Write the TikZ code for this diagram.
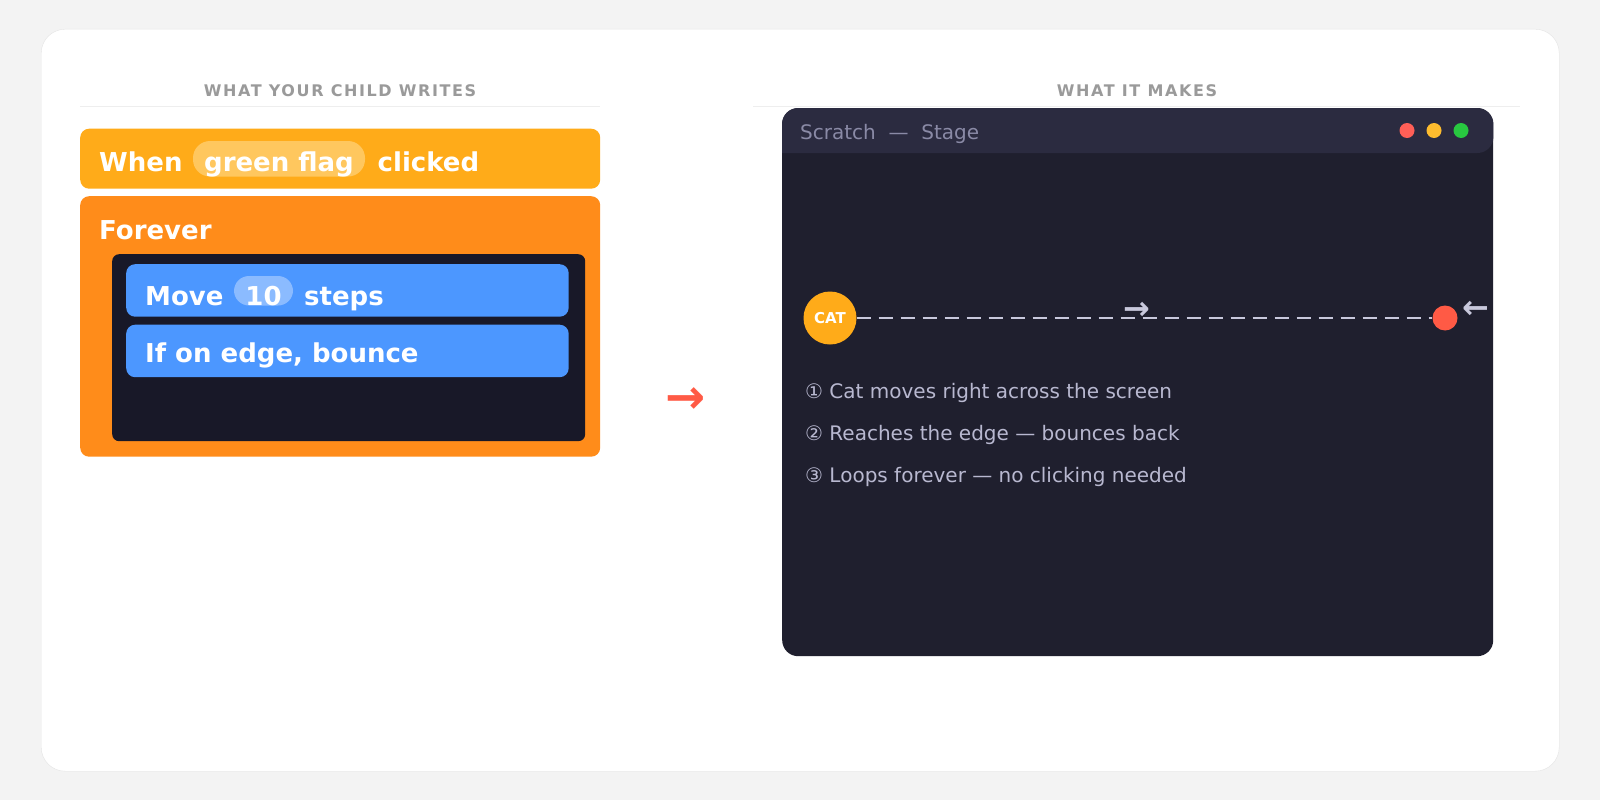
\documentclass[tikz,border=0pt]{standalone}
\usepackage{fontspec}
\setmainfont{DejaVu Sans}
\newfontfamily\headfont{DejaVu Sans}[LetterSpace=10]
\usetikzlibrary{positioning}

\definecolor{pagec}{HTML}{F3F3F3}
\definecolor{cardln}{HTML}{E4E4E4}
\definecolor{headc}{HTML}{9A9A9A}
\definecolor{rulec}{HTML}{EEEEEE}
\definecolor{eventc}{HTML}{FFAB19}
\definecolor{eventpill}{HTML}{FFC75E}
\definecolor{loopc}{HTML}{FF8C1A}
\definecolor{slotc}{HTML}{181828}
\definecolor{motionc}{HTML}{4C97FF}
\definecolor{motionpill}{HTML}{8BBBFF}
\definecolor{redc}{HTML}{FF5A45}
\definecolor{stagec}{HTML}{1F1F2E}
\definecolor{barc}{HTML}{2B2B40}
\definecolor{titlec}{HTML}{8A8AA6}
\definecolor{linec}{HTML}{B8B8D0}
\definecolor{arrc}{HTML}{C8C8DC}
\definecolor{dotyel}{HTML}{FEBC2E}
\definecolor{dotgrn}{HTML}{28C840}
\definecolor{dotred}{HTML}{FF5F57}

\begin{document}
\begin{tikzpicture}[x=1pt,y=-1pt,
  blk/.style={rectangle,rounded corners=9pt,inner sep=0pt,anchor=north west},
  word/.style={anchor=base west,inner sep=0pt,text=white,font=\fontsize{26}{30}\selectfont\bfseries},
  pill/.style={rectangle,inner sep=0pt,anchor=base,text=white,font=\fontsize{26}{30}\selectfont\bfseries},
  head/.style={anchor=base,inner sep=0pt,text=headc,font=\fontsize{16}{19}\headfont\bfseries},
  stepline/.style={anchor=base west,inner sep=0pt,text=linec,font=\fontsize{20}{24}\selectfont},
  glyph/.style={inner sep=0pt,font=\fontsize{32}{36}\selectfont\bfseries},
  dot/.style={circle,inner sep=0pt,minimum size=15pt}]

\useasboundingbox[fill=pagec] (0,0) rectangle (1600,800);
\node [blk,rounded corners=24pt,fill=white,draw=cardln,minimum width=1518pt,minimum height=742pt] (card) at (41,29){};

% left side: the blocks
\node [head] (lhead) at (340,96.5){WHAT YOUR CHILD WRITES};
\draw [rulec] (80,106) -- (600,106);

\node [blk,fill=eventc,minimum width=520pt,minimum height=60pt] (whenblk) at (80,128.5){};
\node [word] (when) at (99,171){When};
\node [pill,fill=eventpill,rounded corners=17pt,minimum width=172pt,text height=30pt,text depth=5.5pt] (flag) at (279,171){green flag};
\node [word] (clicked) at (377.5,171){clicked};

\node [blk,fill=loopc,minimum width=520pt,minimum height=260.5pt] (loopblk) at (80,196){};
\node [word] (forever) at (99,239){Forever};
\node [blk,rounded corners=7pt,fill=slotc,minimum width=473pt,minimum height=187pt] (slot) at (112,254){};

\node [blk,fill=motionc,minimum width=442.5pt,minimum height=52.5pt] (moveblk) at (126,264){};
\node [word] (move) at (145,305){Move};
\node [pill,fill=motionpill,rounded corners=15pt,minimum width=59pt,text height=29pt,text depth=0.5pt] (ten) at (263.5,305){10};
\node [word] (steps) at (304,305){steps};

\node [blk,fill=motionc,minimum width=442.5pt,minimum height=52.5pt] (bounceblk) at (126,324.5){};
\node [word] (bounce) at (145,362){If on edge, bounce};

\node [glyph,text=redc,font=\fontsize{48}{52}\selectfont\bfseries] (flow) at (686,401){→};

% right side: the stage
\node [head] (rhead) at (1137,96.5){WHAT IT MAKES};
\draw [rulec] (753,106) -- (1520,106);

\node [blk,rounded corners=16pt,fill=stagec,minimum width=711pt,minimum height=548pt] (stage) at (782,108){};
\fill [barc,rounded corners=16pt] ([yshift=-45pt]stage.north west) |- (stage.north) -| ([yshift=-45pt]stage.north east) [sharp corners] -- cycle;
\node [anchor=base west,inner sep=0pt,text=titlec,font=\fontsize{20}{24}\selectfont] (title) at (800,139){Scratch\ \ —\ \ Stage};
\node [dot,fill=dotred] (close) at (1407,130.5){};
\node [dot,fill=dotyel] (mini) at (1434,130.5){};
\node [dot,fill=dotgrn] (maxi) at (1461,130.5){};

\node [circle,fill=eventc,minimum size=53pt,inner sep=0pt,text=white,font=\fontsize{15}{18}\selectfont\bfseries] (cat) at (830,318){CAT};
\node [circle,fill=redc,minimum size=25pt,inner sep=0pt] (wall) at (1445,318){};
\draw [arrc,line width=2.5pt,dash pattern=on 14pt off 8pt] (cat) -- (wall);
\node [glyph,text=arrc] (goright) at (1137,311){→};
\node [glyph,text=arrc] (goback) at (1476,310){←};

\node [stepline] (s1) at (805,398){① Cat moves right across the screen};
\node [stepline] (s2) at (805,440){② Reaches the edge — bounces back};
\node [stepline] (s3) at (805,482){③ Loops forever — no clicking needed};
\end{tikzpicture}
\end{document}
